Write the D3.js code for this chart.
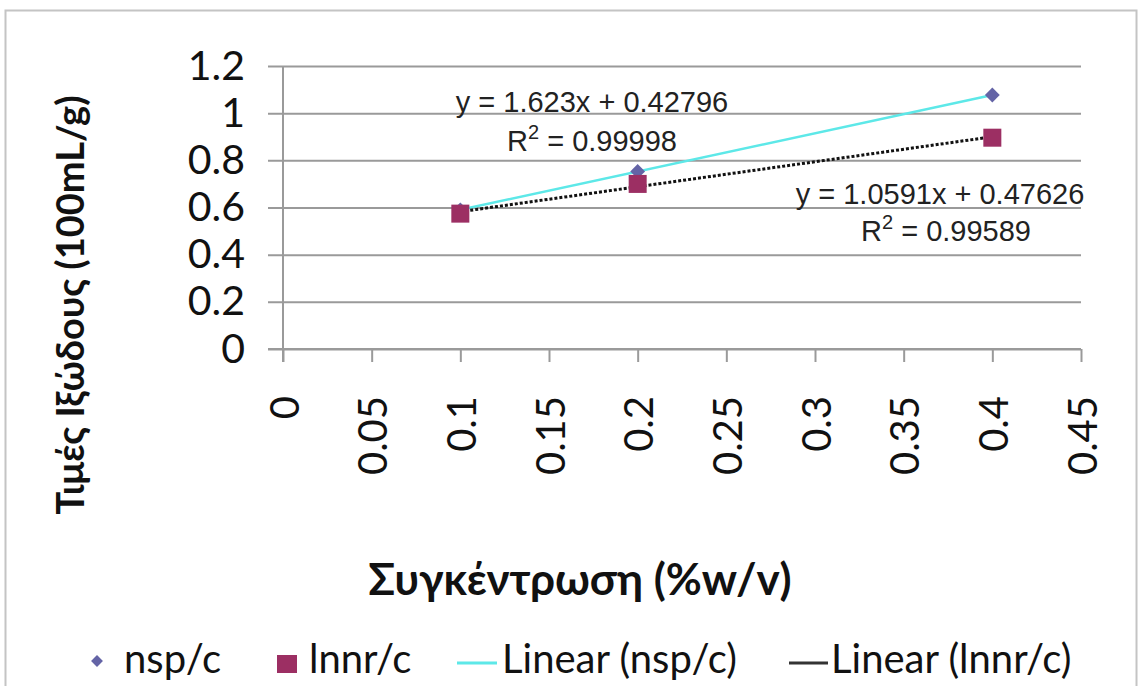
<!DOCTYPE html>
<html>
<head>
<meta charset="utf-8">
<script src="https://cdn.jsdelivr.net/npm/d3@7"></script>
<style>
  html, body { margin: 0; padding: 0; background: #fff; }
  svg { display: block; }
</style>
</head>
<body>
<svg id="chart" width="1142" height="686"></svg>
<script>
// Concentrations (%w/v)
const concentrations = [0.1, 0.2, 0.4];
// Reduced viscosity ηsp/c and inherent viscosity ln(ηr)/c, in 100mL/g
const nspValues = [0.590, 0.753, 1.077];
const lnnrValues = [0.574, 0.700, 0.896];
// Least-squares trendlines, as printed on the chart
const nspFit = { slope: 1.623, intercept: 0.42796, r2: "0.99998", label: "y = 1.623x + 0.42796" };
const lnnrFit = { slope: 1.0591, intercept: 0.47626, r2: "0.99589", label: "y = 1.0591x + 0.47626" };
// Axis ticks
const xTicks = [0, 0.05, 0.1, 0.15, 0.2, 0.25, 0.3, 0.35, 0.4, 0.45];
const yTicks = [0, 0.2, 0.4, 0.6, 0.8, 1, 1.2];
const legendLabels = ["nsp/c", "lnnr/c", "Linear (nsp/c)", "Linear (lnnr/c)"];

const colors = { nsp: "#6464a6", lnnr: "#9c2f63", nspLine: "#5de8e8", lnnrLine: "#111111", grid: "#9a9a9a" };
const FONT = "Lato, 'Open Sans', sans-serif";
const EQ_FONT = "'Liberation Sans', Arial, sans-serif";

const svg = d3.select("#chart");

// outer frame
svg.append("rect").attr("x", 5.5).attr("y", 10.5).attr("width", 1131).attr("height", 690)
  .attr("fill", "#fff").attr("stroke", "#c4c4c4").attr("stroke-width", 2);

const plot = { left: 283, right: 1081, top: 66, bottom: 349 };
const x = d3.scaleLinear().domain([0, 0.45]).range([plot.left, plot.right]);
const y = d3.scaleLinear().domain([0, 1.2]).range([plot.bottom, plot.top]);

// horizontal gridlines (with short outer ticks) and y labels
const yAxis = d3.axisLeft(y).tickValues(yTicks).tickSize(plot.right - plot.left + 15)
  .tickFormat(d3.format("~g"));
const gy = svg.append("g").attr("transform", `translate(${plot.right},0)`).call(yAxis);
gy.select(".domain").remove();
gy.selectAll(".tick line").attr("stroke", colors.grid).attr("stroke-width", 2);
gy.selectAll(".tick text").attr("font-family", FONT).attr("font-size", 41).attr("fill", "#111")
  .attr("x", -(plot.right - plot.left + 38));

// x axis with downward ticks, labels rotated
const xAxis = d3.axisBottom(x).tickValues(xTicks).tickSize(13).tickSizeOuter(0).tickFormat(d3.format("~g"));
const gx = svg.append("g").attr("transform", `translate(0,${plot.bottom})`).call(xAxis);
gx.select(".domain").attr("stroke", colors.grid).attr("stroke-width", 2)
  .attr("d", `M${plot.left - 15},0H${plot.right}`);
gx.selectAll(".tick line").attr("stroke", colors.grid).attr("stroke-width", 2);
gx.selectAll(".tick text")
  .attr("font-family", FONT).attr("font-size", 40).attr("fill", "#111")
  .attr("text-anchor", "end").attr("dy", "0.35em")
  .attr("transform", "translate(1,47) rotate(-90)").attr("x", 0).attr("y", 0);

// vertical axis line
svg.append("line").attr("x1", plot.left).attr("x2", plot.left)
  .attr("y1", plot.top).attr("y2", plot.bottom + 13)
  .attr("stroke", colors.grid).attr("stroke-width", 2);

// trendlines over the data range
const xr = d3.extent(concentrations);
const line = d3.line().x(d => x(d[0])).y(d => y(d[1]));
svg.append("path")
  .attr("d", line(xr.map(v => [v, nspFit.slope * v + nspFit.intercept])))
  .attr("stroke", colors.nspLine).attr("stroke-width", 2.5).attr("fill", "none");
svg.append("path")
  .attr("d", line(xr.map(v => [v, lnnrFit.slope * v + lnnrFit.intercept])))
  .attr("stroke", colors.lnnrLine).attr("stroke-width", 3).attr("stroke-dasharray", "3,2").attr("fill", "none");

// markers
const diamond = d3.symbol().type(d3.symbolDiamond2).size(140);
svg.append("g").selectAll("path").data(concentrations.map((c, i) => [c, nspValues[i]]))
  .join("path").attr("d", diamond)
  .attr("transform", d => `translate(${x(d[0])},${y(d[1])})`).attr("fill", colors.nsp);
const sq = 18;
svg.append("g").selectAll("rect").data(concentrations.map((c, i) => [c, lnnrValues[i]]))
  .join("rect").attr("width", sq).attr("height", sq)
  .attr("x", d => x(d[0]) - sq / 2).attr("y", d => y(d[1]) - sq / 2).attr("fill", colors.lnnr);

// equation labels
function equation(fit, cx, y1, y2) {
  const g = svg.append("g").attr("font-family", EQ_FONT).attr("font-size", 29).attr("fill", "#222")
    .attr("text-anchor", "middle");
  g.append("text").attr("x", cx.a).attr("y", y1).text(fit.label);
  const t = g.append("text").attr("x", cx.b).attr("y", y2);
  t.append("tspan").text("R");
  t.append("tspan").attr("dy", -12).attr("font-size", 20).text("2");
  t.append("tspan").attr("dy", 12).text(" = " + fit.r2);
}
equation(nspFit, { a: 592, b: 592 }, 112, 151);
equation(lnnrFit, { a: 940, b: 946 }, 204, 241);

// axis titles
svg.append("text").attr("transform", "translate(84,305) rotate(-90)")
  .attr("text-anchor", "middle").attr("font-family", FONT).attr("font-weight", "bold")
  .attr("font-size", 38).attr("fill", "#111").text("Τιμές Ιξώδους (100mL/g)");
svg.append("text").attr("x", 580).attr("y", 595)
  .attr("text-anchor", "middle").attr("font-family", FONT).attr("font-weight", "bold")
  .attr("font-size", 44).attr("fill", "#111").text("Συγκέντρωση (%w/v)");

// legend
const lg = svg.append("g").attr("font-family", FONT).attr("font-size", 40).attr("fill", "#111");
const base = 673;
lg.append("path").attr("d", d3.symbol().type(d3.symbolDiamond2).size(90))
  .attr("transform", "translate(97,661)").attr("fill", colors.nsp);
lg.append("text").attr("x", 124).attr("y", base).text(legendLabels[0]);
lg.append("rect").attr("x", 277).attr("y", 655).attr("width", 20).attr("height", 18).attr("fill", colors.lnnr);
lg.append("text").attr("x", 309).attr("y", base).text(legendLabels[1]);
lg.append("line").attr("x1", 457).attr("x2", 497).attr("y1", 663).attr("y2", 663)
  .attr("stroke", colors.nspLine).attr("stroke-width", 3);
lg.append("text").attr("x", 502).attr("y", base).text(legendLabels[2]);
lg.append("line").attr("x1", 789).attr("x2", 828).attr("y1", 663).attr("y2", 663)
  .attr("stroke", "#333").attr("stroke-width", 3);
lg.append("text").attr("x", 831).attr("y", base).text(legendLabels[3]);
</script>
</body>
</html>
